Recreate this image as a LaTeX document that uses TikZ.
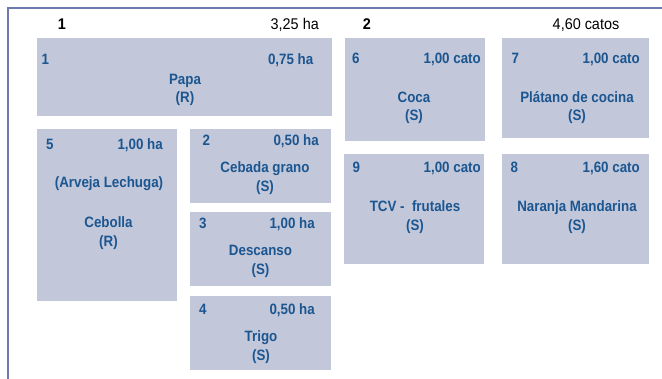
\documentclass[tikz,border=0pt]{standalone}
\usepackage{fontspec}
\setmainfont{Liberation Sans}[FakeStretch=0.93]
\newfontfamily\plotfont{Liberation Sans}[FakeStretch=0.89]
\definecolor{plotfill}{HTML}{C2C7DA}
\definecolor{plottext}{HTML}{1B5690}
\definecolor{framecol}{HTML}{6C7BAC}
\begin{document}
\begin{tikzpicture}[x=1pt, y=-1pt,
    plot/.style={fill=plotfill, inner sep=0pt, anchor=north west},
    lbl/.style={text=plottext, inner sep=0pt, anchor=base, font=\plotfont\bfseries\fontsize{15}{17}\selectfont},
    head/.style={inner sep=0pt, anchor=base, font=\fontsize{15.5}{17}\selectfont}]
  \useasboundingbox (0,0) rectangle (662,379);
  \draw[framecol, line width=2.5pt] (8,379) -- (8,8) -- (662,8);

  % sector headers
  \node[head, font=\bfseries\fontsize{15.5}{17}\selectfont] (h1) at (62,30) {1};
  \node[head, anchor=base east] (h1a) at (319,30) {3,25 ha};
  \node[head, font=\bfseries\fontsize{15.5}{17}\selectfont] (h2) at (367,30) {2};
  \node[head] (h2a) at (586,30) {4,60 catos};

  % plots of sector 1
  \node[plot, minimum width=295pt, minimum height=78pt] (papa) at (37,38) {};
  \node[lbl, anchor=base west] (papa-n) at (41.5,65) {1};
  \node[lbl, anchor=base east] (papa-a) at (313.5,65) {0,75 ha};
  \node[lbl] (papa-c) at (185,84.5) {Papa};
  \node[lbl] (papa-t) at (185,102.5) {(R)};

  \node[plot, minimum width=140pt, minimum height=172pt] (cebolla) at (37,129) {};
  \node[lbl, anchor=base west] (cebolla-n) at (46,150) {5};
  \node[lbl, anchor=base east] (cebolla-a) at (163,150) {1,00 ha};
  \node[lbl] (cebolla-p) at (109,188) {(Arveja Lechuga)};
  \node[lbl] (cebolla-c) at (108.5,228) {Cebolla};
  \node[lbl] (cebolla-t) at (108.5,247) {(R)};

  \node[plot, minimum width=141pt, minimum height=74pt] (cebada) at (190,129) {};
  \node[lbl, anchor=base west] (cebada-n) at (202.5,146) {2};
  \node[lbl, anchor=base east] (cebada-a) at (319,146) {0,50 ha};
  \node[lbl] (cebada-c) at (265,173) {Cebada grano};
  \node[lbl] (cebada-t) at (265,192) {(S)};

  \node[plot, minimum width=141pt, minimum height=74pt] (descanso) at (190,212) {};
  \node[lbl, anchor=base west] (descanso-n) at (199,229) {3};
  \node[lbl, anchor=base east] (descanso-a) at (315,229) {1,00 ha};
  \node[lbl] (descanso-c) at (260.5,256) {Descanso};
  \node[lbl] (descanso-t) at (260.5,275) {(S)};

  \node[plot, minimum width=141pt, minimum height=74pt] (trigo) at (190,296) {};
  \node[lbl, anchor=base west] (trigo-n) at (199,315) {4};
  \node[lbl, anchor=base east] (trigo-a) at (315,315) {0,50 ha};
  \node[lbl] (trigo-c) at (261,342) {Trigo};
  \node[lbl] (trigo-t) at (261,361) {(S)};

  % plots of sector 2
  \node[plot, minimum width=140pt, minimum height=103pt] (coca) at (345,38) {};
  \node[lbl, anchor=base west] (coca-n) at (352,64) {6};
  \node[lbl, anchor=base east] (coca-a) at (481,64) {1,00 cato};
  \node[lbl] (coca-c) at (414,103) {Coca};
  \node[lbl] (coca-t) at (414,121) {(S)};

  \node[plot, minimum width=147pt, minimum height=100pt] (platano) at (502,38) {};
  \node[lbl, anchor=base west] (platano-n) at (511.5,64) {7};
  \node[lbl, anchor=base east] (platano-a) at (640,64) {1,00 cato};
  \node[lbl] (platano-c) at (577,103) {Plátano de cocina};
  \node[lbl] (platano-t) at (577,121) {(S)};

  \node[plot, minimum width=140pt, minimum height=110pt] (tcv) at (344,154) {};
  \node[lbl, anchor=base west] (tcv-n) at (352.5,173) {9};
  \node[lbl, anchor=base east] (tcv-a) at (481,173) {1,00 cato};
  \node[lbl] (tcv-c) at (415,212) {TCV -\ \ frutales};
  \node[lbl] (tcv-t) at (415,231) {(S)};

  \node[plot, minimum width=147pt, minimum height=110pt] (naranja) at (502,154) {};
  \node[lbl, anchor=base west] (naranja-n) at (510.5,173) {8};
  \node[lbl, anchor=base east] (naranja-a) at (640,173) {1,60 cato};
  \node[lbl] (naranja-c) at (577,212) {Naranja Mandarina};
  \node[lbl] (naranja-t) at (577,231) {(S)};
\end{tikzpicture}
\end{document}
